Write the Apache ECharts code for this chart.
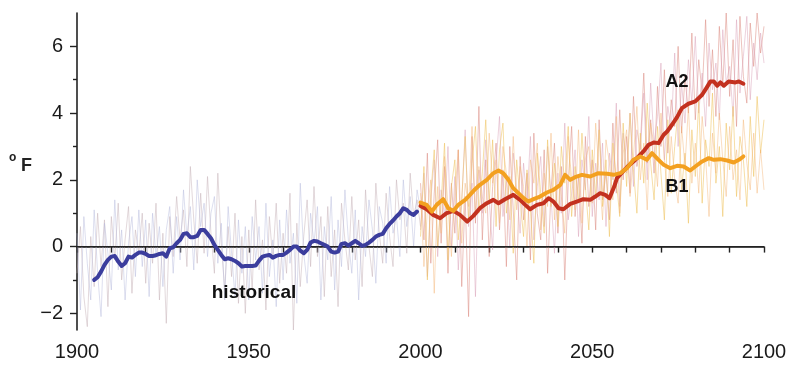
<!DOCTYPE html>
<html>
<head>
<meta charset="utf-8">
<script src="https://cdn.jsdelivr.net/npm/echarts@6/dist/echarts.min.js"></script>
<style>
html,body{margin:0;padding:0;background:#fff;}
#c{width:789px;height:367px;}
</style>
</head>
<body>
<div id="c"></div>
<script>
// ---- data ----
var xTickLabels = [1900, 1950, 2000, 2050, 2100];
var yTickLabels = [-2, 0, 2, 4, 6];
var yMinorTicks = [-1, 1, 3, 5];

// annual (faint) series
var histAnnualStart = 1900;
var histAnnual1 = [
 -0.8, 0.6, -1.5, -2.4, 0.3, -1.2, 1.0, -0.6, 0.8, -1.8,
  0.9, -0.4, 1.3, -1.0, 0.2, 1.2, -1.4, 0.5, -0.2, 1.0,
 -1.1, 0.7, -0.5, 1.3, -1.6, 0.4, -2.3, 0.9, -0.3, 1.5,
  0.2, 1.1, -0.6, 2.4, 0.8, -0.5, 1.6, -0.2, 2.1, 0.4,
 -0.8, 2.2, 0.1, -1.3, 0.6, -0.9, 1.0, -1.7, 0.3, -2.0,
  0.5, -1.3, 1.4, -0.7, 0.2, -1.9, 0.9, -0.4, 1.3, -1.1,
  0.4, -0.8, 1.6, -2.5, 0.7, -1.2, 0.3, 1.4, -0.6, 1.8,
 -0.3, 0.9, -1.5, 1.2, -0.9, 0.5, -1.8, 1.3, 0.2, -0.7,
  1.5, -0.4, 0.8, -1.2, 1.7, 0.0, -0.9, 1.9, 0.4, -0.5,
  1.6, 0.3, -0.6, 2.0, 0.8, 1.3, -0.2, 2.2, 0.9, 1.4,
  0.6
];
var histAnnual2 = [
  0.4, -1.9, 0.9, -0.5, -1.6, 1.1, -0.8, -2.1, 0.7, -0.2,
 -1.3, 1.4, -0.7, 0.5, -1.6, 0.1, 0.9, -0.9, 1.1, -0.6,
  0.8, -1.5, 1.0, -0.3, 0.6, -1.2, 0.5, 1.2, -0.8, 0.9,
 -0.4, 1.7, 0.3, 1.2, -0.7, 2.0, 0.6, 1.3, -0.3, 1.0,
  1.5, -0.5, 0.7, -1.6, 1.2, -0.2, -1.5, 0.8, -0.8, 0.6,
 -1.6, 0.9, -0.4, 0.6, -1.4, 1.3, -0.9, 0.2, -1.8, 0.8,
 -1.0, 1.1, -0.5, 0.4, -1.7, 1.9, -0.2, -1.1, 1.0, 0.1,
  1.2, -1.6, 0.6, -0.4, 1.5, -1.3, 0.8, -0.6, 1.7, 0.2,
 -0.8, 1.1, -1.6, 0.6, -0.3, 1.4, 0.5, -1.1, 1.2, 0.7,
 -0.5, 1.8, 0.4, 0.9, -0.3, 2.0, 0.6, 1.5, 0.0, 1.7,
  1.1
];
var futAnnualStart = 2000;
var a2Annual1 = [
  1.9, 0.2, 2.8, -0.5, 1.6, 3.2, 0.1, 2.4, -0.8, 1.9,
  0.4, 2.9, -1.2, 1.5, -2.1, 3.3, 0.7, 4.2, 0.2, 2.6,
 -0.3, 1.8, 3.1, 0.5, 2.3, -0.6, 3.0, 1.1, -1.0, 2.7,
  0.8, 2.2, -0.4, 3.4, 1.0, 0.2, 2.9, -0.8, 1.7, 3.1,
  0.4, 2.4, -1.0, 1.9, 3.6, 0.9, 2.1, 0.1, 3.3, 1.2,
  2.6, 0.5, 3.8, 1.4, 2.2, 0.8, 3.7, 1.6, 4.1, 2.0,
  3.3, 1.6, 4.5, 2.4, 3.0, 5.2, 2.5, 3.8, 2.2, 4.8,
  3.0, 5.3, 2.8, 4.4, 3.6, 6.0, 3.4, 5.1, 4.0, 6.4,
  3.8, 5.6, 4.6, 6.8, 4.2, 5.9, 3.9, 6.6, 4.8, 7.0,
  4.5, 6.2, 3.6, 6.9, 5.1, 4.3, 6.7, 5.4, 7.0, 5.8,
  6.6
];
var a2Annual2 = [
  0.5, 2.2, -0.9, 1.4, 2.6, -0.3, 1.7, 0.9, 3.0, 0.0,
  2.1, -0.7, 1.3, 3.5, 0.6, 1.9, -1.5, 2.3, 1.0, 3.2,
  1.4, -0.1, 2.5, 3.9, 0.9, 2.0, 0.0, 2.8, 1.7, 0.4,
  2.5, 1.3, 3.3, 0.2, 1.8, 2.7, 0.6, 3.0, 1.5, -0.2,
  2.2, 1.0, 3.7, 0.8, 1.6, 2.9, 0.3, 2.6, 1.7, 3.9,
  0.9, 2.5, 1.4, 3.1, 0.6, 2.8, 2.0, 4.3, 1.2, 3.4,
  2.2, 4.0, 1.8, 3.5, 2.9, 4.6, 2.0, 4.9, 3.1, 3.9,
  5.5, 2.6, 4.2, 3.5, 5.8, 3.0, 4.9, 3.7, 5.6, 4.3,
  6.3, 4.0, 5.2, 3.6, 6.1, 4.7, 5.5, 3.8, 6.5, 4.9,
  5.4, 3.9, 6.8, 4.6, 5.7, 6.9, 4.4, 6.1, 5.0, 6.4,
  5.5
];
var b1Annual1 = [
  0.3, 2.4, -1.0, 1.6, 2.9, 0.0, 1.3, 3.1, -0.4, 1.8,
  2.6, 0.2, 1.4, 3.3, 0.8, 2.5, 3.6, 1.0, 2.2, 3.8,
  1.3, 3.2, 0.6, 2.9, 3.7, 1.0, 2.1, -0.2, 2.6, 1.4,
  0.3, 2.3, 1.1, -0.5, 2.8, 1.6, 0.4, 3.2, 1.2, 2.5,
  0.6, 3.0, 1.9, 3.6, 0.9, 2.4, 1.3, 3.4, 1.8, 0.5,
  2.9, 1.5, 3.5, 1.2, 2.6, 0.3, 3.1, 2.0, 0.9, 3.7,
  1.8, 4.0, 2.3, 1.0, 3.4, 1.9, 4.3, 2.5, 1.4, 3.6,
  2.2, 0.8, 3.8, 1.6, 3.0, 4.1, 1.7, 2.8, 0.7, 3.5,
  2.1, 4.4, 1.3, 3.2, 2.4, 4.6, 1.9, 3.0, 0.9, 3.7,
  2.3, 4.2, 1.5, 3.3, 2.6, 1.2, 3.9, 2.1, 4.5, 2.8,
  3.8
];
var b1Annual2 = [
  1.6, -0.6, 1.1, 2.0, -1.4, 1.8, 0.4, 2.7, 1.2, -0.3,
  1.6, 2.9, 0.1, 1.9, 1.2, 3.6, 0.9, 2.4, 1.5, 1.0,
  3.4, 1.9, 2.6, 0.7, 3.0, 2.2, 0.8, 3.3, 1.1, 2.4,
  1.8, 0.0, 2.6, 1.9, 3.1, 0.5, 2.2, 1.2, 3.4, 0.8,
  2.7, 1.5, 0.4, 3.3, 2.0, 1.1, 3.5, 0.7, 2.6, 3.0,
  1.3, 3.7, 2.2, 0.8, 3.2, 2.5, 1.4, 3.9, 1.0, 2.8,
  3.5, 1.5, 2.7, 4.2, 2.0, 3.1, 1.1, 3.7, 3.0, 1.8,
  4.0, 2.6, 1.5, 3.3, 2.0, 1.3, 3.6, 2.4, 4.2, 1.9,
  3.1, 1.6, 3.9, 2.7, 0.9, 3.4, 2.2, 4.0, 2.6, 1.5,
  3.6, 2.0, 2.9, 1.4, 3.8, 2.5, 1.7, 3.4, 1.6, 2.9,
  1.7
];

// smoothed series
var histYears = [1905,1906,1907,1908,1909,1910,1911,1912,1913,1914,1915,1916,1917,1918,1919,1920,1921,1922,1923,1924,1925,1926,1927,1928,1929,1930,1931,1932,1933,1934,1935,1936,1937,1938,1939,1940,1941,1942,1943,1944,1945,1946,1947,1948,1949,1950,1951,1952,1953,1954,1955,1956,1957,1958,1959,1960,1961,1962,1963,1964,1965,1966,1967,1968,1969,1970,1971,1972,1973,1974,1975,1976,1977,1978,1979,1980,1981,1982,1983,1984,1985,1986,1987,1988,1989,1990,1991,1992,1993,1994,1995,1996,1997,1998,1999];
var histSmooth = [-1.0,-0.92,-0.75,-0.55,-0.4,-0.3,-0.28,-0.45,-0.58,-0.5,-0.3,-0.33,-0.25,-0.18,-0.18,-0.22,-0.28,-0.28,-0.26,-0.22,-0.2,-0.3,-0.05,-0.02,0.1,0.2,0.38,0.4,0.28,0.28,0.32,0.5,0.5,0.38,0.25,0.05,-0.1,-0.25,-0.38,-0.35,-0.38,-0.43,-0.5,-0.6,-0.58,-0.58,-0.58,-0.57,-0.42,-0.3,-0.27,-0.25,-0.33,-0.28,-0.25,-0.25,-0.18,-0.1,0.0,0.0,-0.12,-0.2,-0.1,0.12,0.17,0.15,0.1,0.05,0.0,-0.15,-0.18,-0.15,0.08,0.1,0.03,0.1,0.17,0.1,0.02,0.05,0.12,0.2,0.3,0.35,0.38,0.55,0.68,0.78,0.9,1.0,1.15,1.1,1.0,0.95,1.05];

var a2Years = [2000,2001.8,2003.7,2005.7,2007.6,2009.6,2011.5,2013.6,2015.4,2017.3,2019.3,2021.2,2022.7,2024.6,2027,2029,2030.5,2031.9,2033.9,2035.8,2037.3,2038.7,2040.2,2041.6,2043.6,2045.5,2047.4,2049.4,2050.9,2052.3,2053.8,2055,2056.4,2057.2,2058.7,2060.3,2062,2063.5,2064.9,2066.4,2067.9,2069.3,2070.8,2071.8,2073.2,2074.7,2076.1,2078,2080,2082,2083.4,2084.4,2085.4,2086.4,2087.3,2088.3,2089.7,2091.7,2092.7,2094];
var a2Smooth = [1.22,1.12,0.95,0.85,1.0,1.07,0.95,0.75,0.92,1.15,1.3,1.4,1.3,1.42,1.55,1.4,1.25,1.12,1.25,1.3,1.45,1.35,1.15,1.12,1.28,1.35,1.42,1.4,1.5,1.6,1.55,1.45,1.8,2.05,2.22,2.4,2.55,2.7,2.85,3.05,3.12,3.1,3.35,3.45,3.65,3.88,4.15,4.28,4.35,4.55,4.78,4.95,4.95,4.82,4.92,4.82,4.95,4.92,4.95,4.88];

var b1Years = [2000,2001.8,2003.3,2004.7,2006.6,2008.1,2009.6,2011,2013,2014.4,2015.9,2017.3,2019.3,2021.2,2022.7,2024.1,2025.6,2027,2028.5,2030,2031.4,2032.9,2034.8,2036.8,2038.7,2040.7,2042.1,2043.6,2045,2047,2049.4,2051.8,2054.3,2056.2,2058.2,2060.1,2062,2064,2065.9,2067.4,2069.3,2070.8,2072.7,2074.7,2076.6,2078.5,2080,2082,2083.9,2085.4,2087.3,2089.3,2091.2,2092.7,2094];
var b1Smooth = [1.32,1.25,1.05,1.25,1.42,1.15,1.07,1.25,1.4,1.55,1.72,1.85,2.0,2.2,2.28,2.2,2.0,1.75,1.6,1.45,1.35,1.42,1.5,1.62,1.7,1.85,2.15,2.0,2.08,2.15,2.1,2.2,2.18,2.15,2.2,2.35,2.6,2.7,2.6,2.8,2.6,2.45,2.35,2.42,2.4,2.28,2.4,2.55,2.65,2.6,2.62,2.58,2.52,2.6,2.7];

// ---- build ----
function annual(start, vals){ return vals.map(function(v,i){ return [start+i, v]; }); }
function pairs(xs, ys){ return xs.map(function(x,i){ return [x, ys[i]]; }); }

var FONT = '"Liberation Sans", Arial, Helvetica, sans-serif';
var chart = echarts.init(document.getElementById('c'), null, {renderer:'canvas'});

function faint(data, color){
  return {type:'line', data:data, symbol:'none', silent:true, z:2,
    lineStyle:{color:color, width:1}};
}
function thick(data, color, z){
  return {type:'line', data:data, symbol:'none', silent:true, z:z,
    lineStyle:{color:color, width:4, join:'round', cap:'round'}};
}

var option = {
  animation:false,
  backgroundColor:'#ffffff',
  grid:{left:77, right:25, top:13, bottom:37, outerBoundsMode:'none', containLabel:false},
  xAxis:{
    type:'value', min:1900, max:2100, interval:50,
    axisLine:{show:true, lineStyle:{color:'#222', width:1.6}},
    axisTick:{show:true, length:6, lineStyle:{color:'#222', width:1.4}},
    minorTick:{show:true, splitNumber:5, length:6, lineStyle:{color:'#222', width:1.4}},
    splitLine:{show:false},
    axisLabel:{fontFamily:FONT, fontSize:20, color:'#1a1a1a', margin:12,
      customValues:xTickLabels, formatter:function(v){return String(v);}}
  },
  yAxis:[{
    type:'value', min:-2.5, max:7,
    axisLine:{show:true, onZero:false, lineStyle:{color:'#222', width:1.6}},
    axisTick:{show:true, length:7, customValues:yTickLabels, lineStyle:{color:'#222', width:1.4}},
    splitLine:{show:false},
    axisLabel:{fontFamily:FONT, fontSize:20, color:'#1a1a1a', margin:14,
      customValues:yTickLabels,
      formatter:function(v){ return v < 0 ? '\u2212' + Math.abs(v) : String(v); }}
  },{
    type:'value', min:-2.5, max:7, position:'left',
    axisLine:{show:false},
    axisTick:{show:true, length:4, customValues:yMinorTicks, lineStyle:{color:'#222', width:1.4}},
    axisLabel:{show:false},
    splitLine:{show:false}
  }],
  series:[
    faint(annual(histAnnualStart, histAnnual1), 'rgba(200,180,185,0.5)'),
    faint(annual(histAnnualStart, histAnnual2), 'rgba(180,185,220,0.45)'),
    faint(annual(futAnnualStart, a2Annual1), 'rgba(220,135,125,0.5)'),
    faint(annual(futAnnualStart, a2Annual2), 'rgba(215,155,180,0.45)'),
    faint(annual(futAnnualStart, b1Annual1), 'rgba(238,195,95,0.55)'),
    faint(annual(futAnnualStart, b1Annual2), 'rgba(245,180,115,0.45)'),
    {type:'line', data:[[1900,0],[2100,0]], symbol:'none', silent:true, z:3,
      lineStyle:{color:'#222', width:1.4}},
    thick(pairs(histYears, histSmooth), '#3b3d9d', 5),
    thick(pairs(a2Years, a2Smooth), '#c3311f', 5),
    thick(pairs(b1Years, b1Smooth), '#f3a020', 6)
  ],
  graphic:[
    {type:'text', z:100, left:9, top:152, style:{text:'o', font:'bold 12px '+FONT, fill:'#222'}},
    {type:'text', z:100, left:21, top:157, style:{text:'F', font:'bold 18px '+FONT, fill:'#222'}},
    {type:'text', z:100, x:254, y:293, style:{text:'historical', font:'bold 19px '+FONT, fill:'#111', align:'center', verticalAlign:'middle'}},
    {type:'text', z:100, x:677, y:82, style:{text:'A2', font:'bold 18px '+FONT, fill:'#111', align:'center', verticalAlign:'middle'}},
    {type:'text', z:100, x:677, y:187, style:{text:'B1', font:'bold 18px '+FONT, fill:'#111', align:'center', verticalAlign:'middle'}}
  ]
};
chart.setOption(option);
</script>
</body>
</html>
